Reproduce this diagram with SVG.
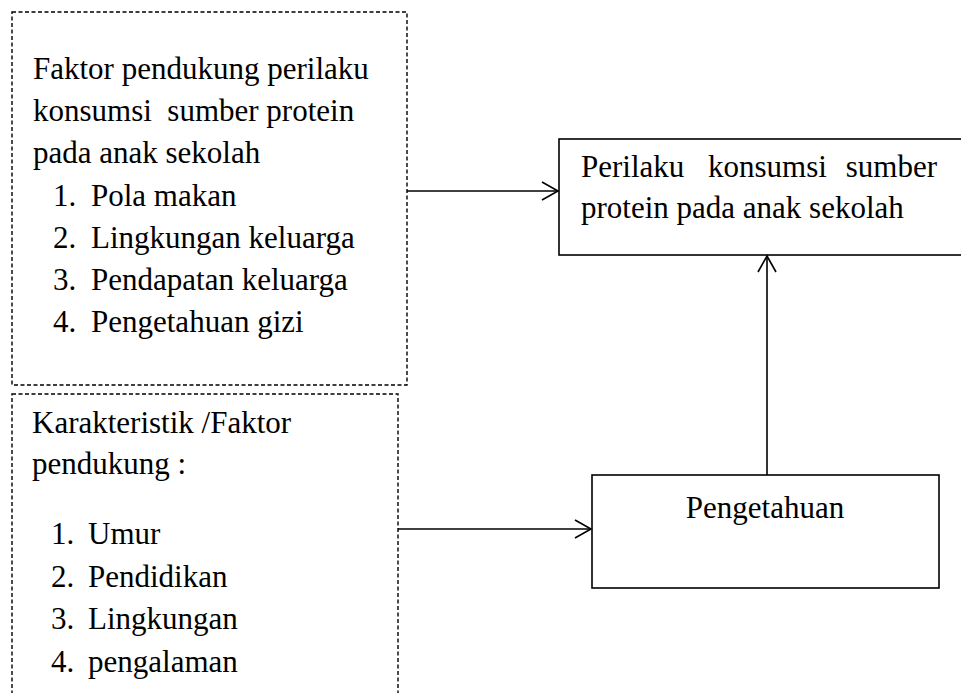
<svg xmlns="http://www.w3.org/2000/svg" width="961" height="693" viewBox="0 0 961 693">
<style>
.t{font-family:"Liberation Serif","Times New Roman",serif;font-size:31px;fill:#000}
.dash{fill:none;stroke:#000;stroke-width:1.4;stroke-dasharray:4 2.5}
.solid{fill:#fff;stroke:#000;stroke-width:1.6}
.conn{fill:none;stroke:#000;stroke-width:1.6}
</style>
<defs>
<marker id="arr" viewBox="0 0 20 20" refX="18" refY="10" markerWidth="20" markerHeight="20" markerUnits="userSpaceOnUse" orient="auto">
<path d="M2,1 L18,10 L2,19" fill="none" stroke="#000" stroke-width="1.6"/>
</marker>
</defs>
<rect width="961" height="693" fill="#fff"/>
<g id="node-faktor">
<rect class="dash" x="12" y="12" width="395" height="373"/>
<text class="t" x="33" y="79">Faktor pendukung perilaku</text>
<text class="t" x="33" y="121" xml:space="preserve">konsumsi  sumber protein</text>
<text class="t" x="33" y="163">pada anak sekolah</text>
<text class="t" x="53" y="206">1.</text><text class="t" x="91" y="206">Pola makan</text>
<text class="t" x="53" y="248">2.</text><text class="t" x="91" y="248">Lingkungan keluarga</text>
<text class="t" x="53" y="290">3.</text><text class="t" x="91" y="290">Pendapatan keluarga</text>
<text class="t" x="53" y="332">4.</text><text class="t" x="91" y="332">Pengetahuan gizi</text>
</g>
<g id="node-karakteristik">
<rect class="dash" x="12" y="394" width="386" height="320"/>
<text class="t" x="32" y="433">Karakteristik /Faktor</text>
<text class="t" x="32" y="474">pendukung :</text>
<text class="t" x="51" y="544">1.</text><text class="t" x="88" y="544">Umur</text>
<text class="t" x="51" y="587">2.</text><text class="t" x="88" y="587">Pendidikan</text>
<text class="t" x="51" y="629">3.</text><text class="t" x="88" y="629">Lingkungan</text>
<text class="t" x="51" y="672">4.</text><text class="t" x="88" y="672">pengalaman</text>
</g>
<g id="node-perilaku">
<rect class="solid" x="559" y="139" width="410" height="116"/>
<text class="t" x="581" y="177">Perilaku</text>
<text class="t" x="708" y="177">konsumsi</text>
<text class="t" x="937" y="177" text-anchor="end">sumber</text>
<text class="t" x="581" y="218">protein pada anak sekolah</text>
</g>
<g id="node-pengetahuan">
<rect class="solid" x="592" y="475" width="347" height="113"/>
<text class="t" x="765" y="518" text-anchor="middle">Pengetahuan</text>
</g>
<g id="connectors">
<line class="conn" x1="407" y1="191" x2="558" y2="191" marker-end="url(#arr)"/>
<line class="conn" x1="398" y1="529" x2="591" y2="529" marker-end="url(#arr)"/>
<line class="conn" x1="767" y1="475" x2="767" y2="256" marker-end="url(#arr)"/>
</g>
</svg>
